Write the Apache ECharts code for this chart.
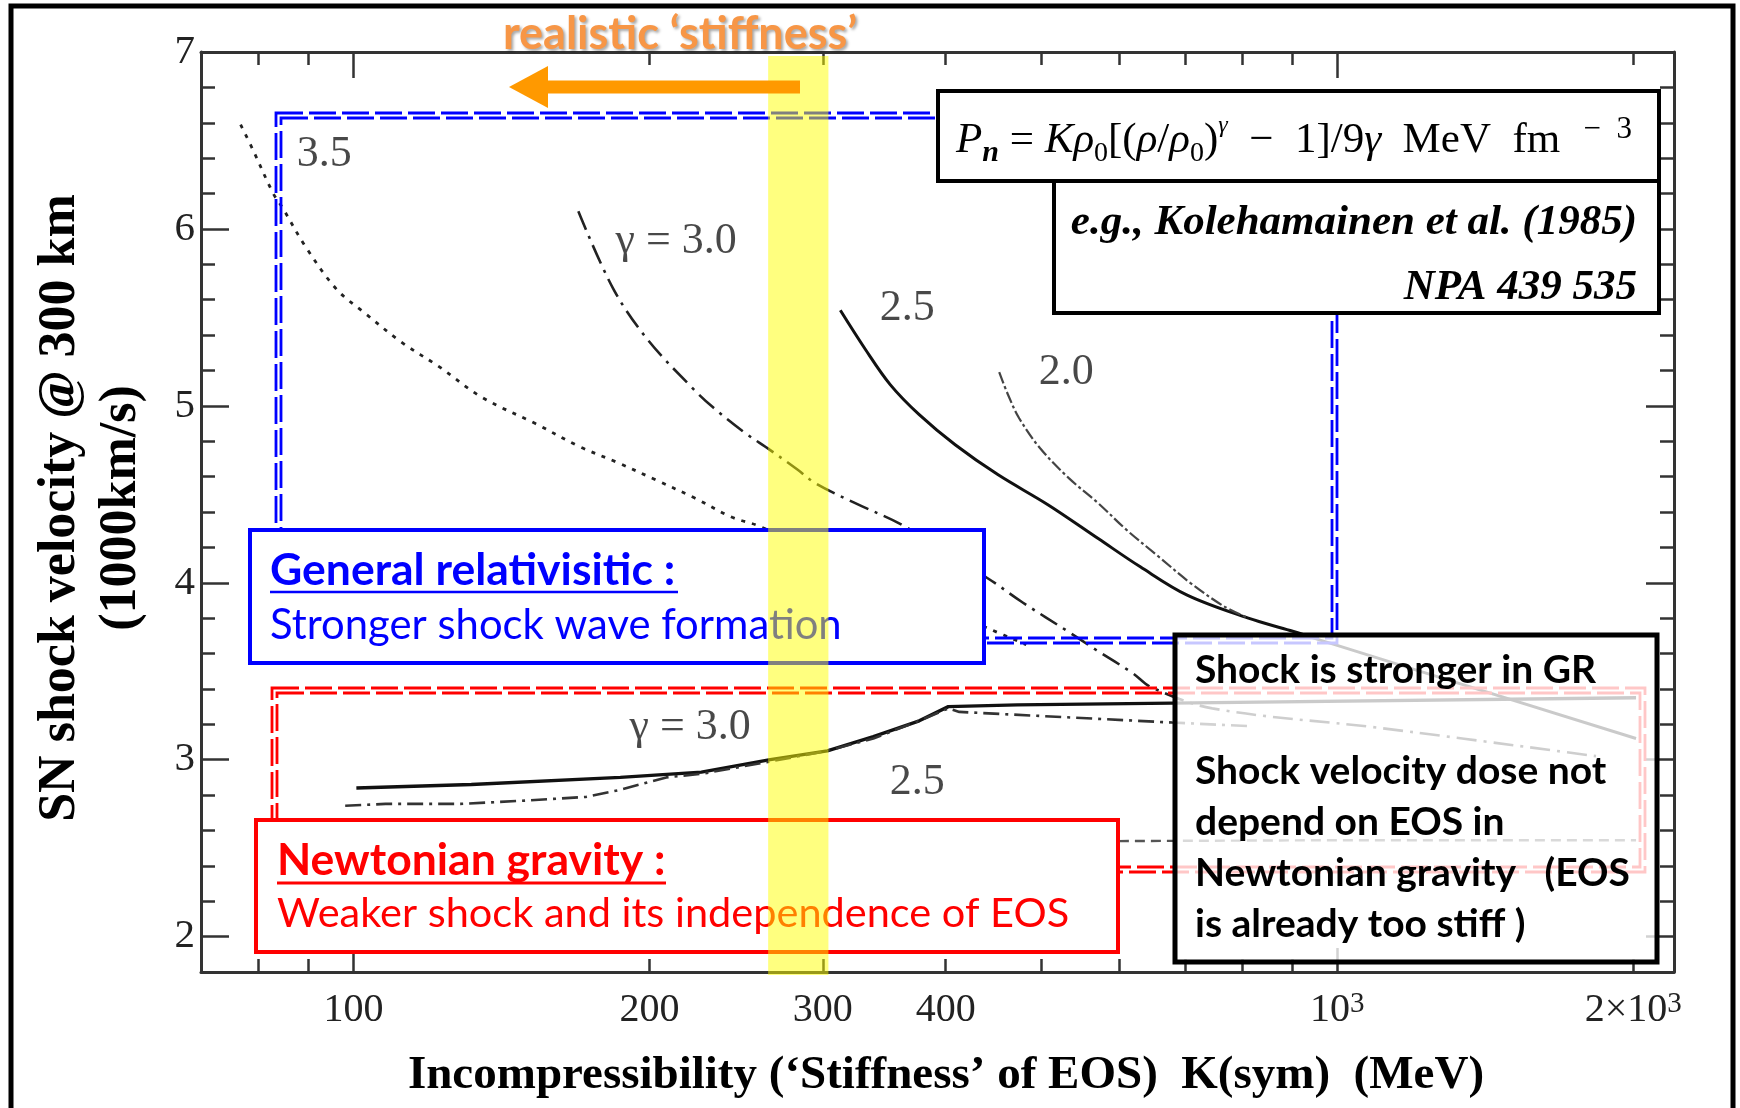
<!DOCTYPE html>
<html>
<head>
<meta charset="utf-8">
<script src="https://cdn.jsdelivr.net/npm/echarts@6/dist/echarts.min.js"></script>
<style>
  html, body { margin: 0; padding: 0; background: #fff; }
  #chart { width: 1740px; height: 1108px; }
</style>
</head>
<body>
<div id="chart"></div>
<script>
// SN shock velocity at 300 km versus nuclear incompressibility K (log axis),
// general-relativistic runs (upper family) and Newtonian runs (lower family).

// ---- axis ticks and labels ----
const xLabelValues = [100, 200, 300, 400, 1000, 2000];
const xMajorTicks = [100, 1000];
const xMinorTicks = [80, 90, 200, 300, 400, 500, 600, 700, 800, 900, 2000];
const yLabelValues = [2, 3, 4, 5, 6, 7];
const yMajorTicks = [2, 3, 4, 5, 6, 7];
const yMinorTicks = [2.2, 2.4, 2.6, 2.8, 3.2, 3.4, 3.6, 3.8, 4.2, 4.4, 4.6, 4.8,
                     5.2, 5.4, 5.6, 5.8, 6.2, 6.4, 6.6, 6.8];

// ---- general relativistic curves: [K (MeV), v (1000 km/s)] ----
const grGamma35 = [[76.8, 6.59], [79.0, 6.45], [82.9, 6.20], [84.7, 6.12], [89.4, 5.90],
  [96.1, 5.66], [102.4, 5.53], [111.9, 5.36], [122.3, 5.22], [134.9, 5.05], [153.1, 4.90],
  [169.7, 4.77], [185.5, 4.68], [203.2, 4.58], [222.1, 4.48], [242.7, 4.37], [258.6, 4.32],
  [442.9, 3.74], [483, 3.65]];
const grGamma30 = [[169.3, 6.10], [183.8, 5.66], [199.4, 5.37], [222.1, 5.09], [232.2, 4.99],
  [249.7, 4.85], [265.3, 4.75], [282.7, 4.64], [295.4, 4.56], [323.7, 4.45], [363.1, 4.32],
  [442.9, 4.02], [478.6, 3.89], [534.2, 3.72], [569, 3.62], [619.4, 3.49], [647.1, 3.41],
  [746.5, 3.29], [1103, 3.18], [1833, 3.02]];
const grGamma25 = [[312.6, 5.54], [331.4, 5.32], [351.3, 5.12], [376, 4.95], [409, 4.78],
  [452.3, 4.61], [508.6, 4.44], [571.6, 4.25], [630.8, 4.09], [704, 3.93], [812.3, 3.80],
  [896, 3.73], [981.5, 3.66], [2013, 3.12]];
const grGamma20 = [[453.4, 5.19], [463.1, 5.06], [475.1, 4.93], [499, 4.76], [534, 4.59],
  [571.6, 4.45], [610.5, 4.30], [657.8, 4.15], [708.9, 4.00], [765.7, 3.87], [812.3, 3.80]];

// ---- Newtonian curves ----
const nwGamma30 = [[100.7, 2.84], [131.8, 2.86], [186.8, 2.90], [225.8, 2.93], [265.3, 3.00],
  [303.2, 3.05], [337.7, 3.13], [376, 3.22], [402.5, 3.30], [473, 3.31], [679.8, 3.32],
  [2013, 3.35]];
const nwGamma25 = [[98.1, 2.74], [107.8, 2.75], [128.4, 2.75], [150.9, 2.77], [172.5, 2.79],
  [186.8, 2.83], [208, 2.90], [225.8, 2.92], [265.3, 2.99], [303.2, 3.05], [337.7, 3.12],
  [376, 3.22], [402.5, 3.29], [413, 3.27], [679.8, 3.21], [812, 3.19]];
const nwLow = [[600, 2.54], [1000, 2.545], [2013, 2.545]];

// curve tags, anchored in data space
const curveTagNames = ['3.5', 'γ = 3.0', '2.5', '2.0', 'γ = 3.0', '2.5'];
const curveTagAt = [[93.4, 6.42], [212.9, 5.93], [365.7, 5.55], [530.4, 5.19], [220, 3.18], [374.2, 2.87]];

// realistic stiffness band (MeV)
const realisticK = [264, 304];

const AX = '#333';
const SERIF = 'Liberation Serif';
const SANS = 'Lato';

function fmtK(v) {
  if (v === 1000) return '{b|10}{s|3}';
  if (v === 2000) return '{b|2×10}{s|3}';
  return '{b|' + v + '}';
}
const xRich = {
  b: { fontFamily: SERIF, fontSize: 40, color: '#222', lineHeight: 40, verticalAlign: 'bottom' },
  s: { fontFamily: SERIF, fontSize: 29, color: '#222', lineHeight: 28, verticalAlign: 'top' }
};

function xAxisDef(position, ticks, len, withLine, withLabels) {
  return {
    type: 'log', logBase: 10, min: 70, max: 2200, position: position, gridIndex: 0,
    axisLine: { show: withLine, onZero: false, lineStyle: { color: AX, width: 3 } },
    axisTick: { show: true, inside: true, length: len, customValues: ticks,
                lineStyle: { color: AX, width: 2.5 } },
    axisLabel: withLabels ? {
      show: true, customValues: xLabelValues, formatter: fmtK, margin: 38,
      verticalAlign: 'middle', rich: xRich
    } : { show: false },
    splitLine: { show: false }, minorTick: { show: false }
  };
}
function yAxisDef(position, ticks, len, withLine, withLabels) {
  return {
    type: 'value', min: 1.8, max: 7, position: position, gridIndex: 0,
    axisLine: { show: withLine, onZero: false, lineStyle: { color: AX, width: 3 } },
    axisTick: { show: true, inside: true, length: len, customValues: ticks,
                lineStyle: { color: AX, width: 2.5 } },
    axisLabel: withLabels ? {
      show: true, customValues: yLabelValues, margin: 6,
      fontFamily: SERIF, fontSize: 41, color: '#222'
    } : { show: false },
    splitLine: { show: false }
  };
}

function curve(name, data, style, smooth) {
  return {
    name: name, type: 'line', data: data, showSymbol: false, symbol: 'none',
    smooth: smooth, silent: true, z: 2,
    lineStyle: Object.assign({ cap: 'butt' }, style)
  };
}

// annotation helpers (pixel layout of the callouts)
function box(x, y, w, h, stroke, lw, fill, z) {
  return { type: 'rect', z: z, silent: true, shape: { x: x, y: y, width: w, height: h },
           style: { fill: fill, stroke: stroke, lineWidth: lw } };
}
function dashedDouble(x0, y0, x1, y1, gap, color) {
  const mk = (a, b, c, d) => ({ type: 'rect', z: 5, silent: true,
    shape: { x: a, y: b, width: c - a, height: d - b },
    style: { fill: null, stroke: color, lineWidth: 2.8, lineDash: [27, 6] } });
  return [mk(x0, y0, x1, y1), mk(x0 + gap, y0 + gap, x1 - gap, y1 - gap)];
}
function label(x, y, text, opt) {
  return { type: 'text', z: opt.z || 12, silent: true, x: x, y: y, rotation: opt.rotation || 0,
    style: Object.assign({ text: text, align: 'left', verticalAlign: 'middle' }, opt.style) };
}
function rule(x1, x2, y, color, w) {
  return { type: 'line', z: 12, silent: true, shape: { x1: x1, y1: y, x2: x2, y2: y },
           style: { stroke: color, lineWidth: w } };
}

const formulaRich = {
  r: { fontFamily: SERIF, fontSize: 43, color: '#000', lineHeight: 54 },
  i: { fontFamily: SERIF, fontSize: 43, fontStyle: 'italic', color: '#000', lineHeight: 54 },
  sub: { fontFamily: SERIF, fontSize: 28, color: '#000', lineHeight: 32, verticalAlign: 'bottom' },
  isub: { fontFamily: SERIF, fontSize: 30, fontStyle: 'italic', fontWeight: 'bold', color: '#000', lineHeight: 32, verticalAlign: 'bottom' },
  sup: { fontFamily: SERIF, fontSize: 31, color: '#000', lineHeight: 32, verticalAlign: 'top' },
  isup: { fontFamily: SERIF, fontSize: 24, fontStyle: 'italic', color: '#000', lineHeight: 28, verticalAlign: 'top' }
};
const formulaText = '{i|P}{isub|n}{r| = }{i|Kρ}{sub|0}{r|[(}{i|ρ}{r|/}{i|ρ}{sub|0}{r|)}{isup|γ}'
  + '{r|  −  1]/9}{i|γ}{r|  MeV  fm}{sup|   −  3}';

const graphics = [].concat(
  dashedDouble(276, 113, 1337, 643, 5, '#0000FF'),
  dashedDouble(272, 688, 1645, 872, 5, '#FF0000'),
  [
    // equation of state box and reference
    box(938, 91, 721, 90, '#000', 4, '#fff', 10),
    box(1054, 181, 605, 132, '#000', 4, '#fff', 10),
    label(956, 141, formulaText, { style: { rich: formulaRich } }),
    label(1637, 223, 'e.g., Kolehamainen et al. (1985)', { style: { align: 'right',
      fontFamily: SERIF, fontSize: 43, fontStyle: 'italic', fontWeight: 'bold', fill: '#000' } }),
    label(1637, 288, 'NPA 439 535', { style: { align: 'right',
      fontFamily: SERIF, fontSize: 43, fontStyle: 'italic', fontWeight: 'bold', fill: '#000' } }),

    // GR callout
    box(250, 530, 734, 133, '#0000FF', 4, '#fff', 10),
    label(270, 571, 'General relativisitic :', { style: { fontFamily: SANS, fontWeight: 'bold', fontSize: 44.5, fill: '#0000FF' } }),
    rule(270, 678, 592, '#0000FF', 2.5),
    label(270, 626, 'Stronger shock wave formation', { style: { fontFamily: SANS, fontSize: 41.8, fill: '#0000FF' } }),

    // Newtonian callout
    box(256, 820, 862, 132, '#FF0000', 4, '#fff', 10),
    label(277, 861, 'Newtonian gravity :', { style: { fontFamily: SANS, fontWeight: 'bold', fontSize: 44.5, fill: '#FF0000' } }),
    rule(277, 666, 883, '#FF0000', 3),
    label(277, 914, 'Weaker shock and its independence of EOS', { style: { fontFamily: SANS, fontSize: 41.5, fill: '#FF0000' } }),

    // summary box (translucent)
    box(1175, 635, 482, 327, '#000', 5, 'rgba(255,255,255,0.78)', 10),
    label(1195, 670, 'Shock is stronger in GR\n\nShock velocity dose not\ndepend on EOS in\nNewtonian gravity   (EOS\nis already too stiff )',
      { style: { fontFamily: SANS, fontWeight: 'bold', fontSize: 39, lineHeight: 50.8, fill: '#000', verticalAlign: 'top', y: -25.4 } }),

    // realistic stiffness arrow
    { type: 'rect', z: 60, silent: true, shape: { x: 546, y: 80.5, width: 254, height: 13 }, style: { fill: '#FF9900' } },
    { type: 'polygon', z: 60, silent: true, shape: { points: [[509, 87], [548, 66], [548, 108]] }, style: { fill: '#FF9900' } },
    label(680, 34, 'realistic ‘stiffness’', { z: 60, style: { align: 'center', fontFamily: SANS, fontWeight: 'bold',
      fontSize: 45, fill: '#F79646', textShadowColor: 'rgba(0,0,0,0.35)', textShadowBlur: 3,
      textShadowOffsetX: 2, textShadowOffsetY: 2 } }),

    // axis titles
    label(91, 508, 'SN shock velocity @ 300 km\n(1000km/s)', { rotation: Math.PI / 2, style: { align: 'center',
      fontFamily: SERIF, fontWeight: 'bold', fontSize: 52, lineHeight: 61, fill: '#000' } }),
    label(946, 1076, 'Incompressibility (‘Stiffness’ of EOS)  K(sym)  (MeV)', { style: { align: 'center',
      fontFamily: SERIF, fontWeight: 'bold', fontSize: 47, fill: '#000' } }),

    // outer frame
    { type: 'rect', z: 100, silent: true, shape: { x: 11, y: 6, width: 1722, height: 1160 },
      style: { fill: null, stroke: '#000', lineWidth: 5 } }
  ]
);

const option = {
  animation: false,
  backgroundColor: '#fff',
  grid: { left: 201, top: 52, right: 66, bottom: 136, containLabel: false, outerBoundsMode: 'none' },
  xAxis: [
    xAxisDef('bottom', xMajorTicks, 24, true, true),
    xAxisDef('bottom', xMinorTicks, 13, false, false),
    xAxisDef('top', xMajorTicks, 26, true, false),
    xAxisDef('top', xMinorTicks, 13, false, false)
  ],
  yAxis: [
    yAxisDef('left', yMajorTicks, 28, true, true),
    yAxisDef('left', yMinorTicks, 14, false, false),
    yAxisDef('right', yMajorTicks, 28, true, false),
    yAxisDef('right', yMinorTicks, 14, false, false)
  ],
  series: [
    curve('GR γ=3.5', grGamma35, { color: '#222', width: 2.8, type: [4, 7] }, 0.35),
    curve('GR γ=3.0', grGamma30, { color: '#222', width: 2.6, type: [20, 7, 3, 7] }, 0.35),
    curve('GR γ=2.5', grGamma25, { color: '#111', width: 3 }, 0.35),
    curve('GR γ=2.0', grGamma20, { color: '#444', width: 2.2, type: [12, 3, 3, 3] }, 0.35),
    curve('Newtonian γ=3.0', nwGamma30, { color: '#111', width: 3.4 }, false),
    curve('Newtonian γ=2.5', nwGamma25, { color: '#333', width: 2.6, type: [16, 6, 3, 6] }, false),
    curve('Newtonian', nwLow, { color: '#555', width: 2.4, type: [10, 6] }, false),
    {
      name: 'tags', type: 'scatter', symbolSize: 0, silent: true, z: 3,
      data: curveTagAt.map((p, i) => ({ value: p, name: curveTagNames[i] })),
      label: { show: true, position: 'inside', formatter: '{b}', fontFamily: SERIF,
               fontSize: 44, color: '#1a1a1a' }
    },
    {
      name: 'realistic K', type: 'custom', z: 50, silent: true,
      data: [realisticK],
      renderItem: function (params, api) {
        const p0 = api.coord([api.value(0), 7]);
        const p1 = api.coord([api.value(1), 1.8]);
        return { type: 'rect', shape: { x: p0[0], y: p0[1] + 4, width: p1[0] - p0[0], height: p1[1] - p0[1] - 1 },
                 style: { fill: 'rgba(255,255,0,0.5)' } };
      }
    }
  ],
  graphic: { elements: graphics }
};

const chart = echarts.init(document.getElementById('chart'), null, { renderer: 'canvas', width: 1740, height: 1108 });
chart.setOption(option);
</script>
</body>
</html>
